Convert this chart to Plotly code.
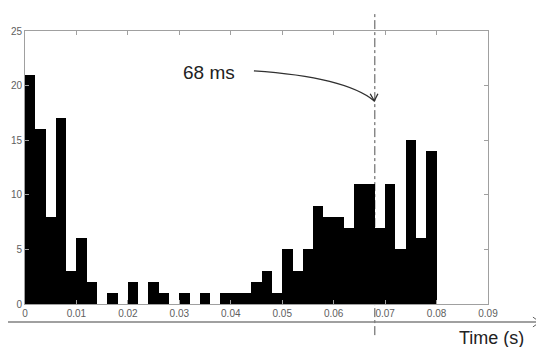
import plotly.graph_objects as go

# Histogram data: bins of width 0.002 s starting at 0
bin_start = 0.0
bin_width = 0.002
counts = [21, 16, 8, 17, 3, 6, 2, 0, 1, 0,
          2, 0, 2, 1, 0, 1, 0, 1, 0, 1,
          1, 1, 2, 3, 1, 5, 3, 5, 9, 8,
          8, 7, 11, 11, 7, 11, 5, 15, 6, 14]

x_ticks = [0, 0.01, 0.02, 0.03, 0.04, 0.05, 0.06, 0.07, 0.08, 0.09]
x_tick_labels = ["0", "0.01", "0.02", "0.03", "0.04", "0.05", "0.06", "0.07", "0.08", "0.09"]
y_ticks = [0, 5, 10, 15, 20, 25]

marker_time = 0.068
marker_label = "68 ms"
axis_label = "Time (s)"

centers = [bin_start + bin_width * (i + 0.5) for i in range(len(counts))]

fig = go.Figure()
fig.add_trace(go.Bar(x=centers, y=counts, width=bin_width,
                     marker=dict(color="black", line=dict(width=0)),
                     showlegend=False, hoverinfo="skip"))

axis_common = dict(showline=True, mirror="ticks", linecolor="#a0a0a0", linewidth=1,
                   ticks="inside", ticklen=4, tickcolor="#a0a0a0",
                   showgrid=False, zeroline=False, automargin=False,
                   tickfont=dict(family="Liberation Sans, Arial", size=10, color="#606060"))

# page body has an 8px margin, so the figure is offset by (8, 8)
fig.update_layout(
    width=544, height=347,
    margin=dict(l=17, r=64, t=23, b=51, autoexpand=False),
    paper_bgcolor="white", plot_bgcolor="white",
    bargap=0,
    xaxis=dict(range=[0, 0.09], tickvals=x_ticks, ticktext=x_tick_labels, **axis_common),
    yaxis=dict(range=[0, 25], tickvals=y_ticks, **axis_common),
)

# vertical dash-dot marker line
fig.add_shape(type="line", xref="x", yref="paper", x0=marker_time, x1=marker_time,
              y0=-0.114, y1=1.07, line=dict(color="#505050", width=1, dash="dashdot"),
              layer="below")

# time axis arrow below the plot
fig.add_shape(type="line", xref="paper", yref="paper", x0=-0.037, x1=1.112, y0=-0.066, y1=-0.066,
              line=dict(color="#808080", width=1.5))
fig.add_shape(type="path", xref="paper", yref="paper",
              path="M 1.097,-0.048 L 1.112,-0.066 L 1.097,-0.084",
              line=dict(color="#606060", width=1))

# curved arrow from label to the marker line
fig.add_shape(type="path", xref="x", yref="y",
              path="M 0.0445,21.35 Q 0.0622,20.8 0.0679,18.6",
              line=dict(color="#303030", width=1.3))
fig.add_shape(type="path", xref="x", yref="y",
              path="M 0.0671,19.25 L 0.0679,18.6 L 0.0686,19.25",
              line=dict(color="#303030", width=1.3))

fig.add_annotation(x=0.0358, y=21.2, xref="x", yref="y", text=marker_label, showarrow=False,
                   xanchor="center", yanchor="middle",
                   font=dict(family="Liberation Sans, Arial", size=19, color="#222222"))
fig.add_annotation(x=1.0086, y=-0.1245, xref="paper", yref="paper", text=axis_label, showarrow=False,
                   xanchor="center", yanchor="middle",
                   font=dict(family="Liberation Sans, Arial", size=18, color="#222222"))

fig.write_html("out.html")
